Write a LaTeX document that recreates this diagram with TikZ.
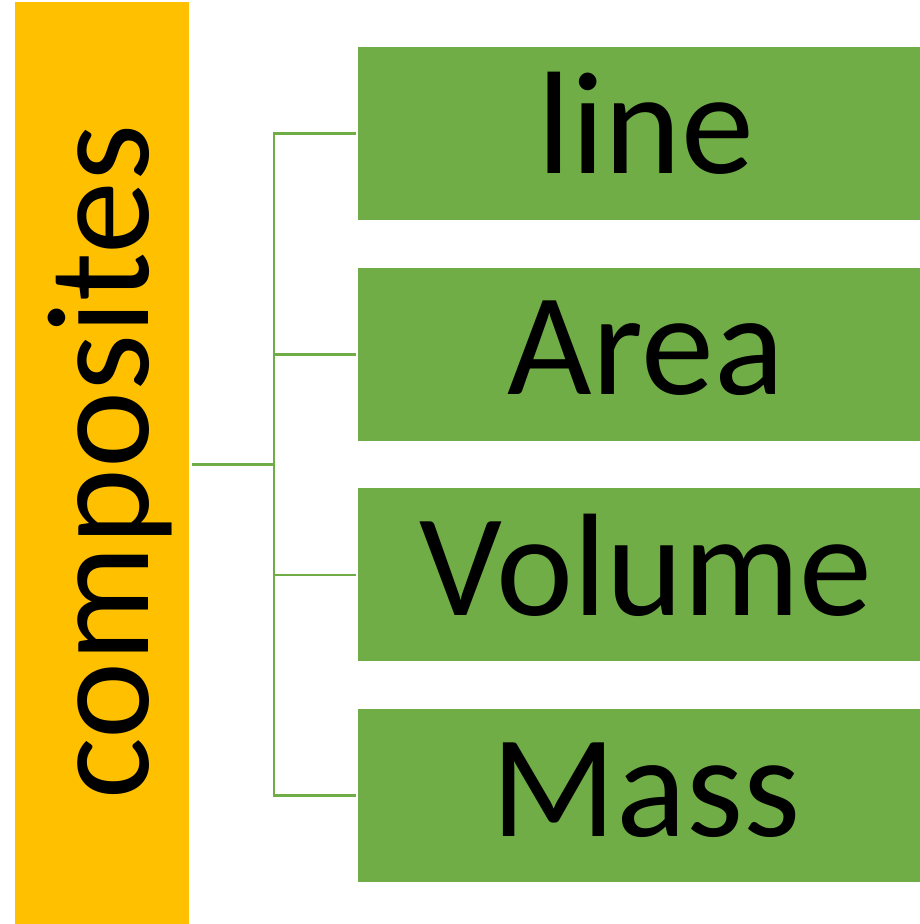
\documentclass[tikz,border=0pt]{standalone}
\usepackage{fontspec}
\setmainfont{Carlito}
\definecolor{barorange}{HTML}{FFC000}
\definecolor{boxgreen}{HTML}{70AD47}
\begin{document}
\begin{tikzpicture}[x=1pt,y=1pt,
  bigtext/.style={font=\fontsize{146}{150}\selectfont, inner sep=0pt, text=black},
  itembox/.style={fill=boxgreen, draw=none, inner sep=0pt, minimum width=576pt, minimum height=173pt},
  link/.style={draw=boxgreen, line width=2.6pt}]
\useasboundingbox (0,0) rectangle (920,924);
% vertical label bar
\fill[barorange] (15,0) rectangle (189,922);
\node[bigtext, rotate=90, anchor=base] (comp) at (148,462) {composites};
\coordinate (barR) at (192,459.5);
% item boxes
\node[itembox, anchor=north west] (b1) at (358,877) {};
\node[itembox, anchor=north west] (b2) at (358,656) {};
\node[itembox, anchor=north west] (b3) at (358,436) {};
\node[itembox, anchor=north west] (b4) at (358,215) {};
\node[bigtext, anchor=base] (t1) at (646,750) {line};
\node[bigtext, anchor=base] (t2) at (646,529) {Area};
\node[bigtext, anchor=base] (t3) at (646,308) {Volume};
\node[bigtext, anchor=base] (t4) at (646,87) {Mass};
% connector tree
\coordinate (jn) at (274,459.5);
\coordinate (e1) at (355.5,790.5);
\coordinate (e2) at (355.5,569.5);
\coordinate (e3) at (355.5,349);
\coordinate (e4) at (355.5,128.5);
\draw[link] (barR) -- (jn);
\draw[link] (e1) -| (jn |- e4) -- (e4);
\draw[link] (jn |- e2) -- (e2);
\draw[link] (jn |- e3) -- (e3);
\end{tikzpicture}
\end{document}
